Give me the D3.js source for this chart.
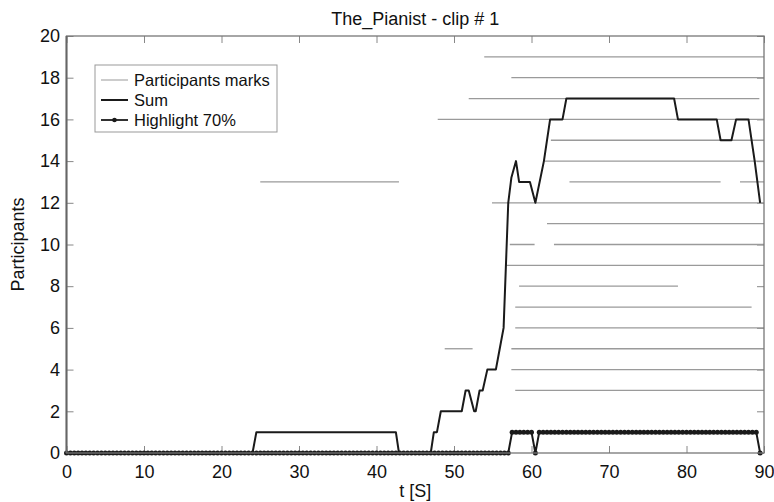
<!DOCTYPE html>
<html>
<head>
<meta charset="utf-8">
<script src="https://cdn.jsdelivr.net/npm/d3@7"></script>
<style>
  body { margin: 0; background: #fff; }
  svg text { font-family: 'Liberation Sans', Arial, Helvetica, sans-serif; fill: #111; }
</style>
</head>
<body>
<div id="chart"></div>
<script>
// participant marks: one horizontal segment per mark
const markRow   = [19,   18,   17,   16,   15,   14,   13,   13,   13,   12,   11,   10,   10,   9,    8,    7,    6,    5,    5,    4,    3];
const markStart = [53.9, 57.4, 51.9, 47.9, 62.5, 61.7, 25.0, 64.9, 86.9, 54.9, 62.0, 57.2, 62.9, 56.6, 58.4, 57.9, 57.9, 48.8, 57.4, 57.4, 57.9];
const markEnd   = [90,   90,   89.4, 90,   90,   90,   42.9, 84.4, 90,   90,   90,   60.4, 90,   90,   78.9, 88.4, 90,   52.4, 90,   90,   90];

// sum of participants (vertices of the curve)
const sumT = [0, 24.0, 24.5, 42.5, 42.9, 47.0, 47.4, 47.8, 48.3, 51.0, 51.5, 51.9, 52.6, 52.8, 53.3, 53.7, 54.3, 55.4, 55.9, 56.4, 56.7, 57.0, 57.4, 58.0, 58.4, 59.8, 60.5, 61.6, 62.4, 64.0, 64.5, 78.4, 78.9, 83.9, 84.4, 85.8, 86.4, 88.0, 88.8, 89.5];
const sumV = [0, 0,    1,    1,    0,    0,    1,    1,    2,    2,    3,    3,    2,    2,    3,    3,    4,    4,    5,    6,    9,    12,   13.2, 14,   13,   13,   12,   14,   16,   16,   17,   17,   16,   16,   15,   15,   16,   16,   14,   12];

// highlight 70%: one value per sample, sampled every 0.5 s from t = 0
const highlightDt = 0.5;
const highlightBits = '0000000000 0000000000 0000000000 0000000000 0000000000 0000000000 ' +
                      '0000000000 0000000000 0000000000 0000000000 0000000000 0000011111 ' +
                      '1011111111 1111111111 1111111111 1111111111 1111111111 1111111110';

const xTicks = [0, 10, 20, 30, 40, 50, 60, 70, 80, 90];
const yTicks = [0, 2, 4, 6, 8, 10, 12, 14, 16, 18, 20];
const legendLabels = ['Participants marks', 'Sum', 'Highlight 70%'];

const margin = { top: 36, right: 10, bottom: 49, left: 66.5 };
const width = 774 - margin.left - margin.right;
const height = 502 - margin.top - margin.bottom;

const svg = d3.select('#chart')
  .append('svg')
  .attr('width', 774)
  .attr('height', 502);

const group = svg.append('g')
  .attr('transform', 'translate(' + margin.left + ',' + margin.top + ')');

const xScale = d3.scaleLinear().domain([0, 90]).range([0, width]);
const yScale = d3.scaleLinear().domain([0, 20]).range([height, 0]);

// ticks pointing inward on all four sides
const tickColor = '#888';
function styleAxis(g) {
  g.select('.domain').remove();
  g.selectAll('.tick line').attr('stroke', tickColor).attr('stroke-width', 1);
  g.selectAll('.tick text').style('font-size', '18px').attr('fill', '#111');
}

group.append('g')
  .attr('transform', 'translate(0,' + height + ')')
  .call(d3.axisBottom(xScale).tickValues(xTicks).tickSize(-7).tickPadding(12))
  .call(styleAxis);
group.append('g')
  .call(d3.axisTop(xScale).tickValues(xTicks).tickSize(-7).tickFormat(''))
  .call(styleAxis);
group.append('g')
  .call(d3.axisLeft(yScale).tickValues(yTicks).tickSize(-7).tickPadding(6.5))
  .call(styleAxis);
group.append('g')
  .attr('transform', 'translate(' + width + ',0)')
  .call(d3.axisRight(yScale).tickValues(yTicks).tickSize(-7).tickFormat(''))
  .call(styleAxis);

group.append('clipPath').attr('id', 'plot-clip')
  .append('rect').attr('width', width).attr('height', height);

const plot = group.append('g').attr('clip-path', 'url(#plot-clip)');

// participant marks
const marks = markRow.map((r, i) => ({ row: r, start: markStart[i], end: markEnd[i] }));
plot.selectAll('line.mark')
  .data(marks)
  .enter()
  .append('line')
  .attr('class', 'mark')
  .attr('x1', (d) => xScale(d.start))
  .attr('x2', (d) => xScale(d.end))
  .attr('y1', (d) => yScale(d.row))
  .attr('y2', (d) => yScale(d.row))
  .attr('stroke', '#9a9a9a')
  .attr('stroke-width', 1.3);

// sum
const sumData = sumT.map((t, i) => [t, sumV[i]]);
const line = d3.line().x((d) => xScale(d[0])).y((d) => yScale(d[1]));
plot.append('path')
  .datum(sumData)
  .attr('d', line)
  .attr('fill', 'none')
  .attr('stroke', '#1a1a1a')
  .attr('stroke-width', 2)
  .attr('stroke-linejoin', 'round');

// highlight 70%
const bits = highlightBits.replace(/\s/g, '').split('');
const highlightData = bits.map((b, i) => [i * highlightDt, +b]);
group.append('path')
  .datum(highlightData)
  .attr('d', line)
  .attr('fill', 'none')
  .attr('stroke', '#1a1a1a')
  .attr('stroke-width', 2);
group.selectAll('circle.hl')
  .data(highlightData)
  .enter()
  .append('circle')
  .attr('class', 'hl')
  .attr('cx', (d) => xScale(d[0]))
  .attr('cy', (d) => yScale(d[1]))
  .attr('r', 2.5)
  .attr('fill', '#1a1a1a');

// frame
group.append('rect')
  .attr('width', width)
  .attr('height', height)
  .attr('fill', 'none')
  .attr('stroke', '#777')
  .attr('stroke-width', 1.3);
group.append('line')
  .attr('x1', 0).attr('x2', 0).attr('y1', 0).attr('y2', height)
  .attr('stroke', '#666').attr('stroke-width', 2);

// title and axis labels
svg.append('text')
  .text('The_Pianist - clip # 1')
  .attr('x', margin.left + width / 2)
  .attr('y', 25)
  .attr('text-anchor', 'middle')
  .style('font-size', '18px');
svg.append('text')
  .text('t [S]')
  .attr('x', margin.left + width / 2)
  .attr('y', 497)
  .attr('text-anchor', 'middle')
  .style('font-size', '18px');
svg.append('text')
  .text('Participants')
  .attr('transform', 'translate(24,' + (margin.top + height / 2) + ') rotate(-90)')
  .attr('text-anchor', 'middle')
  .style('font-size', '18px');

// legend
const legend = svg.append('g').attr('transform', 'translate(95,65)');
legend.append('rect')
  .attr('width', 182)
  .attr('height', 67)
  .attr('fill', '#fff')
  .attr('stroke', '#999')
  .attr('stroke-width', 1);
const legendStyles = [
  { stroke: '#aaa', width: 1.2, dot: false },
  { stroke: '#1a1a1a', width: 2, dot: false },
  { stroke: '#1a1a1a', width: 1.8, dot: true },
];
legendLabels.forEach((label, i) => {
  const cy = 15 + i * 20;
  const st = legendStyles[i];
  legend.append('line')
    .attr('x1', 6).attr('x2', 33).attr('y1', cy).attr('y2', cy)
    .attr('stroke', st.stroke).attr('stroke-width', st.width);
  if (st.dot) {
    legend.append('circle').attr('cx', 19.5).attr('cy', cy).attr('r', 2.3).attr('fill', '#1a1a1a');
  }
  legend.append('text')
    .text(label)
    .attr('x', 39)
    .attr('y', cy)
    .attr('dy', '0.36em')
    .style('font-size', '16.5px');
});
</script>
</body>
</html>
